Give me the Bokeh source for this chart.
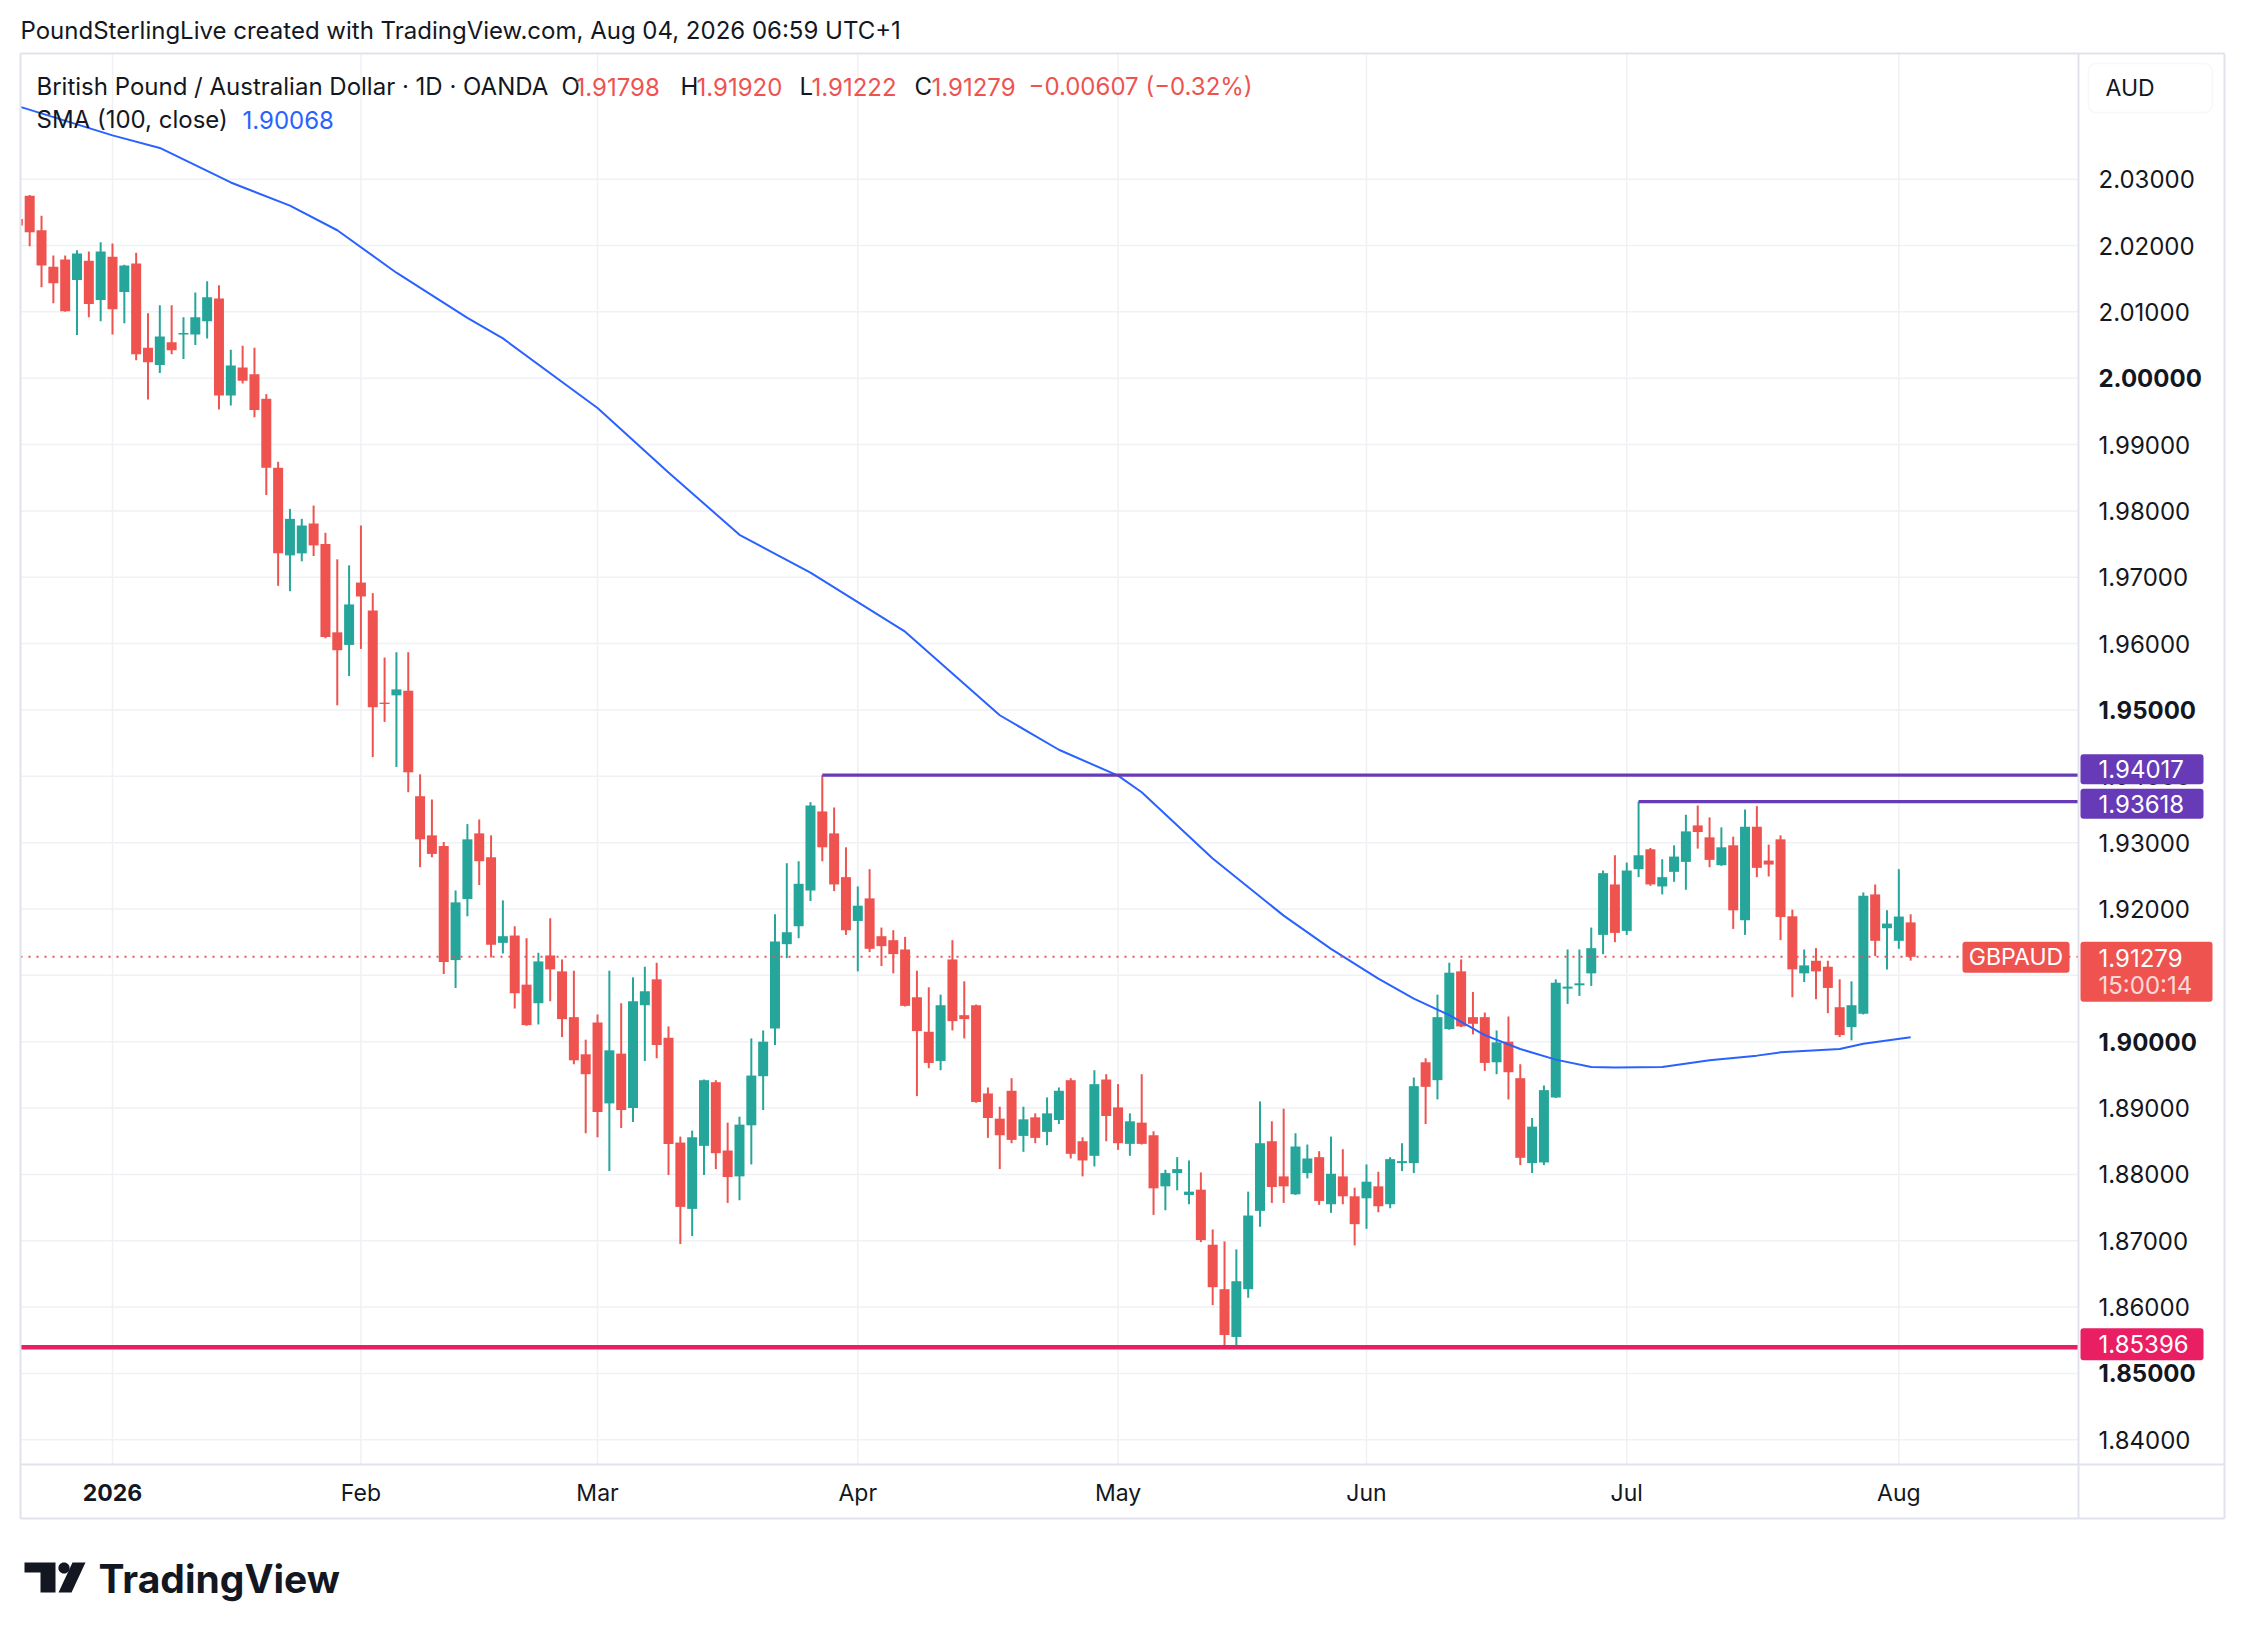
from bokeh.plotting import figure
from bokeh.models import Range1d, Label, BoxAnnotation, ColumnDataSource
from bokeh.core.properties import value
from bokeh.embed import file_html
from bokeh.resources import INLINE
import math

# ---------------- data ----------------
first_bar = -8
opens = [2.0240, 2.0275, 2.0223, 2.0168, 2.0179, 2.0148, 2.0177, 2.0118,
         2.0183, 2.0130, 2.0173, 2.0046, 2.0020, 2.0054, 2.0066, 2.0066, 2.0086, 2.0120,
         1.9974, 2.0016, 2.0006, 1.9969, 1.9865, 1.9733, 1.9736, 1.9781, 1.9750, 1.9617,
         1.9598, 1.9692, 1.9650, 1.9511, 1.9522, 1.9529, 1.9370, 1.9311, 1.9295, 1.9123,
         1.9215, 1.9314, 1.9278, 1.9149, 1.9160, 1.9086, 1.9058, 1.9130, 1.9106, 1.9037,
         1.8981, 1.9029, 1.8907, 1.8982, 1.8900, 1.9055, 1.9094, 1.9006, 1.8848, 1.8748,
         1.8843, 1.8939, 1.8836, 1.8797, 1.8874, 1.8948, 1.9020, 1.9147, 1.9174, 1.9228,
         1.9347, 1.9314, 1.9248, 1.9182, 1.9216, 1.9159, 1.9153, 1.9139, 1.9067, 1.9015,
         1.8971, 1.9124, 1.9040, 1.9055, 1.8922, 1.8884, 1.8926, 1.8858, 1.8886, 1.8864,
         1.8882, 1.8942, 1.8850, 1.8828, 1.8943, 1.8901, 1.8846, 1.8878, 1.8859, 1.8782,
         1.8802, 1.8769, 1.8777, 1.8694, 1.8627, 1.8555, 1.8627, 1.8745, 1.8850, 1.8797,
         1.8770, 1.8802, 1.8826, 1.8755, 1.8797, 1.8767, 1.8764, 1.8782, 1.8755, 1.8817,
         1.8817, 1.8969, 1.8942, 1.9019, 1.9106, 1.9037, 1.9037, 1.8969, 1.9000, 1.8945,
         1.8817, 1.8818, 1.8916, 1.9080, 1.9085, 1.9103, 1.9161, 1.9237, 1.9167, 1.9260,
         1.9290, 1.9234, 1.9256, 1.9271, 1.9326, 1.9308, 1.9266, 1.9296, 1.9183, 1.9324,
         1.9273, 1.9305, 1.9189, 1.9103, 1.9122, 1.9113, 1.9052, 1.9022, 1.9042, 1.9222,
         1.9171, 1.9152, 1.91798]
highs = [2.0245, 2.0276, 2.0245, 2.0185, 2.0185, 2.0193, 2.0191, 2.0205,
         2.0203, 2.0171, 2.0189, 2.0098, 2.0110, 2.0110, 2.0092, 2.0129, 2.0146, 2.0140,
         2.0043, 2.0049, 2.0046, 1.9976, 1.9874, 1.9803, 1.9788, 1.9808, 1.9767, 1.9727,
         1.9718, 1.9778, 1.9676, 1.9579, 1.9587, 1.9587, 1.9403, 1.9365, 1.9301, 1.9228,
         1.9328, 1.9335, 1.9311, 1.9213, 1.9174, 1.9156, 1.9134, 1.9186, 1.9124, 1.9107,
         1.9003, 1.9041, 1.9107, 1.9058, 1.9097, 1.9113, 1.9119, 1.9023, 1.8857, 1.8866,
         1.8943, 1.8942, 1.8878, 1.8887, 1.9005, 1.9017, 1.9192, 1.9269, 1.9272, 1.9361,
         1.94017, 1.9353, 1.9293, 1.9234, 1.9260, 1.9172, 1.9168, 1.9158, 1.9107, 1.9082,
         1.9071, 1.9153, 1.9091, 1.9056, 1.8931, 1.8902, 1.8945, 1.8902, 1.8892, 1.8916,
         1.8931, 1.8945, 1.8856, 1.8957, 1.8951, 1.8936, 1.8892, 1.8951, 1.8865, 1.8807,
         1.8826, 1.8821, 1.8803, 1.8717, 1.8699, 1.8687, 1.8774, 1.8910, 1.8880, 1.8899,
         1.8862, 1.8845, 1.8835, 1.8857, 1.8838, 1.8780, 1.8815, 1.8804, 1.8826, 1.8847,
         1.8946, 1.8975, 1.9071, 1.9119, 1.9124, 1.9075, 1.9044, 1.9017, 1.9038, 1.8966,
         1.8885, 1.8934, 1.9094, 1.9139, 1.9139, 1.9172, 1.9258, 1.9281, 1.9270, 1.93618,
         1.9292, 1.9275, 1.9296, 1.9342, 1.9356, 1.9338, 1.9323, 1.9309, 1.9350, 1.9355,
         1.9297, 1.9311, 1.9199, 1.9139, 1.9141, 1.9122, 1.9094, 1.9091, 1.9225, 1.9237,
         1.9198, 1.9260, 1.91920]
lows = [2.0225, 2.0199, 2.0137, 2.0113, 2.0100, 2.0065, 2.0092, 2.0086,
        2.0066, 2.0083, 2.0027, 1.9968, 2.0008, 2.0036, 2.0029, 2.0050, 2.0060, 1.9953,
        1.9959, 1.9992, 1.9941, 1.9824, 1.9687, 1.9679, 1.9724, 1.9732, 1.9608, 1.9507,
        1.9551, 1.9592, 1.9429, 1.9482, 1.9414, 1.9376, 1.9263, 1.9278, 1.9102, 1.9081,
        1.9189, 1.9236, 1.9127, 1.9133, 1.9050, 1.9024, 1.9026, 1.9061, 1.9007, 1.8966,
        1.8862, 1.8856, 1.8805, 1.8870, 1.8879, 1.8971, 1.8975, 1.8799, 1.8695, 1.8707,
        1.8799, 1.8808, 1.8757, 1.8761, 1.8815, 1.8897, 1.8995, 1.9126, 1.9156, 1.9212,
        1.9272, 1.9227, 1.9161, 1.9106, 1.9135, 1.9114, 1.9103, 1.9053, 1.8918, 1.8960,
        1.8957, 1.9017, 1.9005, 1.8908, 1.8855, 1.8808, 1.8847, 1.8834, 1.8847, 1.8844,
        1.8876, 1.8824, 1.8797, 1.8812, 1.8850, 1.8837, 1.8828, 1.8845, 1.8739, 1.8746,
        1.8776, 1.8755, 1.8698, 1.8603, 1.8541, 1.85396, 1.8614, 1.8721, 1.8757, 1.8757,
        1.8769, 1.8794, 1.8754, 1.8742, 1.8755, 1.8693, 1.8718, 1.8743, 1.8749, 1.8805,
        1.8802, 1.8876, 1.8913, 1.9018, 1.9022, 1.9011, 1.8956, 1.8951, 1.8913, 1.8814,
        1.8802, 1.8814, 1.8915, 1.9057, 1.9069, 1.9084, 1.9132, 1.9150, 1.9161, 1.9248,
        1.9235, 1.9222, 1.9241, 1.9229, 1.9291, 1.9263, 1.9265, 1.9170, 1.9161, 1.9248,
        1.9249, 1.9153, 1.9067, 1.9090, 1.9064, 1.9043, 1.9007, 1.9002, 1.9041, 1.9129,
        1.9109, 1.9140, 1.91222]
closes = [2.0230, 2.0220, 2.0170, 2.0143, 2.0101, 2.0188, 2.0112, 2.0191,
          2.0104, 2.0170, 2.0036, 2.0024, 2.0063, 2.0042, 2.0068, 2.0092, 2.0122, 1.9974,
          2.0019, 1.9996, 1.9952, 1.9865, 1.9736, 1.9788, 1.9778, 1.9748, 1.9610, 1.9590,
          1.9659, 1.9671, 1.9504, 1.9509, 1.9531, 1.9406, 1.9305, 1.9283, 1.9120, 1.9210,
          1.9305, 1.9272, 1.9146, 1.9159, 1.9073, 1.9025, 1.9121, 1.9109, 1.9034, 1.8972,
          1.8951, 1.8894, 1.8987, 1.8897, 1.9061, 1.9076, 1.8995, 1.8846, 1.8751, 1.8856,
          1.8942, 1.8832, 1.8796, 1.8875, 1.8949, 1.9000, 1.9151, 1.9165, 1.9238, 1.9356,
          1.9293, 1.9237, 1.9168, 1.9205, 1.9140, 1.9144, 1.9132, 1.9054, 1.9016, 1.8968,
          1.9055, 1.9031, 1.9034, 1.8909, 1.8885, 1.8859, 1.8852, 1.8883, 1.8855, 1.8892,
          1.8926, 1.8831, 1.8821, 1.8936, 1.8888, 1.8847, 1.8880, 1.8846, 1.8779, 1.8802,
          1.8808, 1.8774, 1.8701, 1.8630, 1.8558, 1.8639, 1.8738, 1.8847, 1.8781, 1.8782,
          1.8842, 1.8824, 1.8760, 1.8801, 1.8767, 1.8725, 1.8789, 1.8752, 1.8823, 1.8820,
          1.8933, 1.8932, 1.9037, 1.9104, 1.9023, 1.9027, 1.8968, 1.8999, 1.8954, 1.8825,
          1.8872, 1.8927, 1.9089, 1.9083, 1.9088, 1.9141, 1.9254, 1.9164, 1.9258, 1.9281,
          1.9237, 1.9248, 1.9279, 1.9317, 1.9316, 1.9274, 1.9293, 1.9198, 1.9324, 1.9262,
          1.9267, 1.9188, 1.9109, 1.9115, 1.9106, 1.9081, 1.9010, 1.9055, 1.9220, 1.9152,
          1.9178, 1.91886, 1.91279]

# 100-day SMA (bar index, value)
sma_bars = [-8, 0, 4, 10, 15, 19, 24, 30, 33, 41, 47, 53, 59, 67, 75, 80, 85, 87, 93, 99,
            103, 107, 110, 113, 116, 119, 122, 125, 127, 131, 135, 139, 141, 146, 148, 152]
sma_vals = [2.0410, 2.0366, 2.0347, 2.0295, 2.0260, 2.0223, 2.0159, 2.0091, 2.0060, 1.9955,
            1.9858, 1.9764, 1.9707, 1.9618, 1.9492, 1.9440, 1.9401, 1.9376, 1.9276, 1.9190,
            1.9140, 1.9095, 1.9065, 1.9040, 1.9010, 1.8989, 1.8973, 1.8962, 1.8961, 1.8962,
            1.8972, 1.8979, 1.8984, 1.8989, 1.8997, 1.90068]

month_ticks = [0, 21, 41, 63, 85, 106, 128, 151]
month_labels = ["2026", "Feb", "Mar", "Apr", "May", "Jun", "Jul", "Aug"]
bold_months = ["2026"]
price_ticks = [1.84, 1.85, 1.86, 1.87, 1.88, 1.89, 1.90, 1.91, 1.92, 1.93, 1.94, 1.95,
               1.96, 1.97, 1.98, 1.99, 2.00, 2.01, 2.02, 2.03]
bold_prices = [1.85, 1.90, 1.95, 2.00]
resist_levels = [1.94017, 1.93618]
resist_start_bars = [60, 129]
support_level = 1.85396
last_close = 1.91279
sma_last = 1.90068
legend_ohlc = ["1.91798", "1.91920", "1.91222", "1.91279"]
legend_change = "−0.00607 (−0.32%)"
countdown = "15:00:14"

# ---------------- layout helpers (canvas pixel <-> data) ----------------
BAR0_PX, BAR_PX = 112.0, 11.83
P_REF, P_REF_PX, PX_PER_UNIT = 2.02, 245.0, 6635.0
W, H = 2234, 1630
CL, CR, CT, CB = 20, 2078, 53, 1464      # chart (price pane) box
OR, OB = 2224, 1518                      # outer right / bottom edges


def bx(X):
    return (X - BAR0_PX) / BAR_PX


def py(Y):
    return P_REF - (Y - P_REF_PX) / PX_PER_UNIT


def pix_y(p):
    return P_REF_PX + (P_REF - p) * PX_PER_UNIT


UP, DOWN = "#26a69a", "#ef5350"
TXT = "#131722"
BORDER = "#e0e3eb"
GRID = "#f0f1f4"
FONT = "Inter"

p = figure(width=W, height=H, x_range=Range1d(bx(0), bx(W)), y_range=Range1d(py(H), py(0)),
           x_axis_location=None, y_axis_location=None, toolbar_location=None,
           output_backend="svg", min_border=0, min_border_left=0, min_border_right=0,
           min_border_top=0, min_border_bottom=0,
           background_fill_color="white", border_fill_color="white", outline_line_color=None)
p.xgrid.visible = False
p.ygrid.visible = False

# grid (inside the price pane only)
p.segment(x0=month_ticks, y0=[py(CT)] * len(month_ticks), x1=month_ticks,
          y1=[py(CB)] * len(month_ticks), line_color=GRID, line_width=1.5)
p.segment(x0=[bx(CL)] * len(price_ticks), y0=price_ticks, x1=[bx(CR)] * len(price_ticks),
          y1=price_ticks, line_color=GRID, line_width=1.5)

# candles
n = len(opens)
bars = [first_bar + i for i in range(n)]
colors = [UP if c >= o else DOWN for o, c in zip(opens, closes)]
src = ColumnDataSource(dict(x=bars, o=opens, h=highs, l=lows, c=closes,
                            top=[max(o, c) for o, c in zip(opens, closes)],
                            bot=[min(o, c) for o, c in zip(opens, closes)],
                            col=colors))
p.segment(x0="x", y0="l", x1="x", y1="h", line_color="col", line_width=2, source=src)
p.vbar(x="x", top="top", bottom="bot", width=0.845, fill_color="col", line_color=None, source=src)

# SMA
p.line(sma_bars, sma_vals, line_color="#2962ff", line_width=2)

# levels
p.segment(x0=[bx(CL)], y0=[support_level], x1=[bx(CR)], y1=[support_level],
          line_color="#e91e63", line_width=4.5)
p.segment(x0=resist_start_bars, y0=resist_levels, x1=[bx(CR)] * 2, y1=resist_levels,
          line_color="#673ab7", line_width=3.3)
p.segment(x0=[bx(CL)], y0=[last_close], x1=[bx(CR)], y1=[last_close], line_color=DOWN,
          line_width=2, line_dash="2 6")

# white mask left of the pane (clips the first candle like the reference)
p.quad(left=[bx(0)], right=[bx(CL)], top=[py(0)], bottom=[py(H)], fill_color="white",
       line_color=None)

# panel borders
bxs = [[bx(CL), bx(OR)], [bx(CL), bx(OR)], [bx(CL), bx(OR)],
       [bx(CL), bx(CL)], [bx(CR), bx(CR)], [bx(OR), bx(OR)]]
bys = [[py(CT), py(CT)], [py(CB), py(CB)], [py(OB), py(OB)],
       [py(CT), py(OB)], [py(CT), py(OB)], [py(CT), py(OB)]]
p.multi_line(xs=bxs, ys=bys, line_color=BORDER, line_width=2)

# price scale labels
norm = [t for t in price_ticks if t not in bold_prices]
p.text(x=[bx(2098)] * len(norm), y=norm, text=[f"{t:.5f}" for t in norm],
       text_align="left", text_baseline="middle", text_font=value(FONT),
       text_font_size="24px", text_color=TXT)
p.text(x=[bx(2098)] * len(bold_prices), y=bold_prices, text=[f"{t:.5f}" for t in bold_prices],
       text_align="left", text_baseline="middle", text_font=value(FONT),
       text_font_size="24px", text_font_style="bold", text_color=TXT)

# time scale labels
for t, l in zip(month_ticks, month_labels):
    p.text(x=[t], y=[py(1492)], text=[l], text_align="center", text_baseline="middle",
           text_font=value(FONT), text_font_size="23px",
           text_font_style=("bold" if l in bold_months else "normal"), text_color=TXT)


def tag(center_px, half, color, text, x_left=2080, x_right=2203, text_x=2098):
    p.add_layout(BoxAnnotation(left=bx(x_left), right=bx(x_right), top=py(center_px - half),
                               bottom=py(center_px + half), fill_color=color, fill_alpha=1,
                               line_color=color, line_width=0, border_radius=3))
    p.add_layout(Label(x=bx(text_x), y=py(center_px), text=text, text_align="left",
                       text_baseline="middle", text_font=FONT, text_font_size="24px",
                       text_color="white"))


tag(pix_y(resist_levels[0]) - 6, 15, "#673ab7", f"{resist_levels[0]:.5f}")
tag(pix_y(resist_levels[1]) + 2, 15, "#673ab7", f"{resist_levels[1]:.5f}")
tag(pix_y(support_level) - 3, 16, "#e91e63", f"{support_level:.5f}")
cy = pix_y(last_close)
p.add_layout(BoxAnnotation(left=bx(2080), right=bx(2212), top=py(cy - 15), bottom=py(cy + 45),
                           fill_color=DOWN, fill_alpha=1, line_color=DOWN, line_width=0,
                           border_radius=3))
p.add_layout(Label(x=bx(2098), y=py(cy + 1), text=f"{last_close:.5f}", text_align="left",
                   text_baseline="middle", text_font=FONT, text_font_size="24px", text_color="white"))
p.add_layout(Label(x=bx(2098), y=py(cy + 29), text=countdown, text_align="left",
                   text_baseline="middle", text_font=FONT, text_font_size="24px", text_color="white",
                   text_alpha=0.8))
p.add_layout(BoxAnnotation(left=bx(1962), right=bx(2069), top=py(cy - 15), bottom=py(cy + 16),
                           fill_color=DOWN, fill_alpha=1, line_color=DOWN, line_width=0,
                           border_radius=3))
p.add_layout(Label(x=bx(2015.5), y=py(cy + 0.5), text="GBPAUD", text_align="center",
                   text_baseline="middle", text_font=FONT, text_font_size="23px", text_color="white"))

# currency button
p.add_layout(BoxAnnotation(left=bx(2088), right=bx(2212), top=py(63), bottom=py(112),
                           fill_color="white", fill_alpha=1, line_color=BORDER, line_width=1.5,
                           border_radius=8))
p.add_layout(Label(x=bx(2105), y=py(87.5), text="AUD", text_align="left", text_baseline="middle",
                   text_font=FONT, text_font_size="23px", text_color=TXT))

# header texts
p.add_layout(Label(x=bx(20), y=py(30),
                   text="PoundSterlingLive created with TradingView.com, Aug 04, 2026 06:59 UTC+1",
                   text_align="left", text_baseline="middle", text_font=FONT,
                   text_font_size="24px", text_color=TXT))
legend_pieces = [(36, "British Pound / Australian Dollar · 1D · OANDA", TXT),
                 (561, "O", TXT), (575, legend_ohlc[0], DOWN),
                 (680, "H", TXT), (696, legend_ohlc[1], DOWN),
                 (799, "L", TXT), (811, legend_ohlc[2], DOWN),
                 (914, "C", TXT), (931, legend_ohlc[3], DOWN),
                 (1028, legend_change, DOWN)]
for X, t, col in legend_pieces:
    p.add_layout(Label(x=bx(X), y=py(86), text=t, text_align="left", text_baseline="middle",
                       text_font=FONT, text_font_size="24px", text_color=col))
p.add_layout(Label(x=bx(36), y=py(119), text="SMA (100, close)", text_align="left",
                   text_baseline="middle", text_font=FONT, text_font_size="24px", text_color=TXT))
p.add_layout(Label(x=bx(242), y=py(119), text=f"{sma_last:.5f}", text_align="left",
                   text_baseline="middle", text_font=FONT, text_font_size="24px",
                   text_color="#2962ff"))

# TradingView logo mark + wordmark
t_shape = [(24, 1562), (55, 1562), (55, 1592), (40, 1592), (40, 1572), (24, 1572)]
slash = [(72, 1562), (85, 1562), (71, 1592), (58, 1592)]
circle = [(63.5 + 5.6 * math.cos(a / 24 * 2 * math.pi), 1567.5 + 5.6 * math.sin(a / 24 * 2 * math.pi))
          for a in range(24)]
shapes = [t_shape, slash, circle]
p.patches(xs=[[bx(a) for a, b in s] for s in shapes], ys=[[py(b) for a, b in s] for s in shapes],
          fill_color=TXT, line_color=None)
p.add_layout(Label(x=bx(98), y=py(1578), text="TradingView", text_align="left",
                   text_baseline="middle", text_font=FONT, text_font_size="39px",
                   text_font_style="bold", text_color=TXT))

open("out.html", "w").write(file_html(p, INLINE))
